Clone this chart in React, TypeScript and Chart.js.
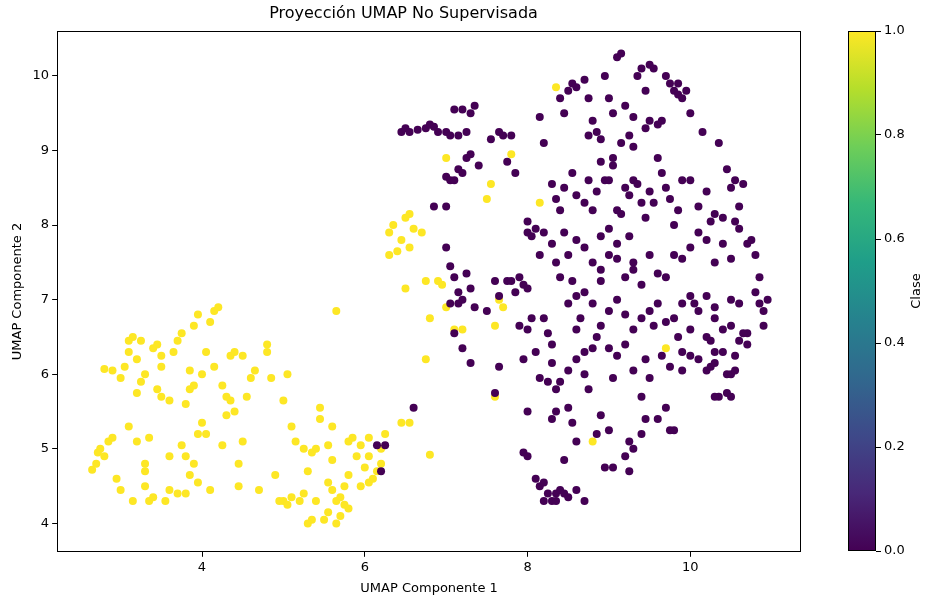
import React, { useEffect, useRef } from "react";
import { Chart, registerables } from "chart.js";
Chart.register(...registerables);

const titleText = "Proyección UMAP No Supervisada";
const xLabel = "UMAP Componente 1";
const yLabel = "UMAP Componente 2";
const cbLabel = "Clase";
const xTicks = [4, 6, 8, 10];
const yTicks = [4, 5, 6, 7, 8, 9, 10];
const cbTicks = [0, 0.2, 0.4, 0.6, 0.8, 1.0];

const class1Points: [number, number][] = [
  [2.65,4.72],[2.7,4.8],[2.72,4.95],[2.75,5.0],[2.8,4.9],[2.85,5.1],[2.8,6.07],[2.9,5.15],[2.95,4.6],[3.0,5.95],
  [3.05,6.1],[3.1,5.3],[3.1,6.3],[3.15,6.5],[3.2,6.2],[3.2,5.75],[3.25,6.45],[3.3,6.0],[3.25,5.9],[3.3,4.8],
  [3.3,4.5],[3.35,4.3],[3.3,4.7],[3.35,5.15],[3.4,4.35],[3.4,6.35],[3.45,6.4],[3.5,6.25],[3.5,6.1],[3.45,5.8],
  [3.55,4.3],[3.6,5.65],[3.65,6.3],[3.7,6.45],[3.6,4.45],[3.7,4.4],[3.75,5.05],[3.8,4.9],[3.8,5.6],[3.85,5.8],
  [3.9,5.85],[3.95,4.55],[3.9,4.8],[3.85,4.65],[3.95,5.2],[4.0,5.35],[4.05,5.2],[3.95,6.8],[3.9,6.65],[4.0,6.0],
  [4.05,6.3],[4.1,6.7],[4.15,6.85],[4.2,6.9],[4.15,6.1],[4.25,5.85],[4.3,5.7],[4.3,5.45],[4.35,5.65],[4.4,5.5],
  [4.45,4.5],[4.45,4.8],[4.5,5.1],[4.35,6.25],[4.4,6.3],[4.5,6.25],[4.6,5.95],[4.65,6.05],[4.1,4.45],[3.5,5.7],
  [3.85,6.05],[3.2,5.1],[2.9,6.05],[3.1,6.45],[3.8,4.4],[3.0,4.45],[3.15,4.3],[3.6,4.9],[4.25,5.05],[3.75,6.55],
  [4.85,5.95],[4.9,4.65],[5.0,4.3],[5.05,4.25],[5.1,4.35],[5.0,5.65],[5.05,6.0],[5.1,5.3],[5.15,5.1],[5.2,4.3],
  [5.25,4.4],[5.3,4.0],[5.3,4.7],[5.35,4.95],[5.4,5.0],[5.4,4.3],[5.45,5.55],[5.45,5.4],[5.5,4.05],[5.55,4.15],
  [5.55,4.55],[5.6,4.45],[5.6,4.85],[5.55,5.05],[5.6,5.3],[5.65,4.3],[5.7,4.35],[5.75,4.25],[5.8,4.2],[5.75,4.5],
  [5.8,4.65],[5.8,5.1],[5.85,5.15],[5.9,4.9],[5.95,4.5],[6.0,4.75],[6.05,4.55],[6.05,4.9],[6.1,4.6],[6.15,4.7],
  [6.2,5.0],[6.2,4.8],[6.25,5.2],[6.05,5.15],[5.95,5.05],[5.65,6.85],[5.35,4.05],[5.65,4.0],[4.95,4.3],[4.7,4.45],
  [5.25,5.0],[5.7,4.1],[4.8,6.4],[4.8,6.3],[4.55,5.7],
  [6.3,7.6],[6.4,7.65],[6.3,7.9],[6.35,8.0],[6.45,7.8],[6.5,8.1],[6.55,8.15],[6.6,7.95],[6.55,7.7],[6.7,7.9],
  [6.5,7.15],[6.75,7.25],[6.8,6.75],[6.9,7.25],[6.95,7.2],[7.0,6.9],[7.1,6.6],[7.2,6.6],[7.0,8.9],[6.75,6.2],
  [6.8,4.92],[6.55,5.35],[6.45,5.35],[7.5,8.35],[7.55,8.55],[7.6,6.65],[7.65,7.0],[7.7,6.9],[7.6,5.7],[7.8,8.95],
  [8.15,8.3],[8.35,9.85],[8.8,5.1],[9.7,6.35]
];

const class0Points: [number, number][] = [
  [6.45,9.25],[6.5,9.3],[6.55,9.25],[6.65,9.28],[6.75,9.3],[6.8,9.35],[6.85,9.32],[6.9,9.25],[7.0,9.25],[7.05,9.2],
  [7.1,9.55],[7.15,9.2],[7.2,9.55],[7.25,9.25],[7.3,9.5],[7.35,9.6],[7.0,8.65],[7.05,8.6],[7.1,8.6],[7.15,8.75],
  [7.2,8.7],[7.25,8.9],[7.3,8.95],[7.4,8.8],[7.55,9.15],[7.65,9.25],[7.7,9.2],[7.8,9.2],[7.75,8.85],[7.85,8.7],
  [6.85,8.25],[7.0,8.25],[7.0,7.7],[7.05,7.45],[7.1,7.3],[7.15,7.1],[7.05,6.95],[7.15,6.95],[7.2,7.0],[7.3,7.15],
  [7.25,7.35],[7.35,6.9],[7.1,6.55],[7.2,6.35],[7.3,6.15],[7.5,6.85],[7.6,7.25],[7.65,7.05],[7.75,7.25],[7.8,7.25],
  [7.85,7.1],[7.9,7.3],[7.95,7.2],[8.0,7.15],[7.9,6.65],[8.0,6.6],[8.05,6.75],[8.2,6.75],[8.25,6.55],[8.3,6.4],
  [7.65,6.1],[7.6,5.75],[8.0,5.5],[7.95,4.95],[8.0,4.9],[8.1,4.6],[8.15,4.5],[8.2,4.3],[8.25,4.4],[8.3,4.3],
  [8.35,4.4],[8.4,4.45],[8.45,4.4],[8.6,4.45],[8.7,4.3],[8.45,4.85],[8.3,5.4],[8.35,5.5],[8.35,5.8],[8.4,5.9],
  [8.5,5.55],[8.55,5.35],[8.5,6.05],[8.6,6.2],[8.7,6.0],[8.8,6.35],[8.75,5.8],[8.9,5.45],[8.85,5.2],[9.0,5.25],
  [9.05,5.95],[9.1,6.25],[8.95,4.75],[9.2,4.9],[9.25,5.1],[9.3,5.0],[9.25,4.7],[9.45,5.4],[9.4,5.7],[9.5,5.95],
  [9.6,5.4],[9.7,5.55],[9.8,5.25],[9.9,6.05],[9.85,6.5],[10.0,6.25],[10.1,6.2],[10.2,6.05],[10.25,6.1],[10.3,6.15],
  [10.3,6.3],[10.4,6.3],[10.45,6.0],[10.5,6.0],[10.55,6.05],[10.45,5.75],[10.35,5.7],[10.5,5.7],[10.55,6.25],[10.6,6.45],
  [8.0,7.9],[8.05,7.85],[8.1,7.95],[8.15,7.6],[8.2,7.9],[8.0,8.05],[8.3,8.55],[8.35,8.35],[8.4,8.2],[8.45,8.5],
  [8.55,8.7],[8.6,8.4],[8.7,8.3],[8.75,8.6],[8.8,8.2],[8.85,8.45],[8.9,8.85],[8.95,8.6],[9.0,8.6],[9.05,8.8],
  [9.1,8.2],[9.15,8.15],[9.2,8.5],[9.25,8.4],[9.3,8.6],[9.35,8.55],[9.4,8.3],[9.45,8.1],[9.5,8.45],[9.55,8.3],
  [9.6,8.9],[9.65,8.7],[9.7,8.5],[9.75,8.35],[9.8,8.0],[9.85,8.2],[9.9,8.6],[10.0,8.6],[10.1,8.25],[10.2,8.45],
  [10.25,8.05],[10.3,8.15],[10.4,8.1],[10.45,8.75],[10.5,8.5],[10.55,8.6],[10.65,8.55],[10.55,8.05],[10.6,7.95],[10.7,7.75],
  [10.75,7.8],[10.8,7.6],[10.5,7.55],[10.4,7.75],[10.3,7.5],[10.2,7.8],[10.1,7.9],[10.0,7.7],[9.9,7.55],[9.8,7.6],
  [9.7,7.3],[9.6,7.35],[9.5,7.6],[9.4,7.2],[9.3,7.5],[9.25,7.85],[9.2,7.3],[9.1,7.55],[9.0,7.6],[8.9,7.25],
  [8.8,7.5],[8.7,7.1],[8.6,7.05],[8.55,7.25],[8.5,7.6],[8.45,7.9],[8.9,7.85],[9.0,7.95],[9.1,7.75],[9.3,7.4],
  [8.7,7.7],[8.6,7.8],[8.3,7.75],[8.35,7.5],[8.4,7.3],[8.5,6.95],[8.65,6.75],[8.8,6.95],[8.9,6.65],[9.0,6.85],
  [9.1,7.0],[9.2,6.8],[9.3,6.6],[9.4,6.75],[9.5,6.85],[9.55,6.65],[9.6,6.95],[9.7,6.7],[9.8,6.75],[9.9,6.95],
  [10.0,7.05],[10.05,6.95],[10.1,6.85],[10.2,7.05],[10.3,6.9],[10.4,6.6],[10.5,7.0],[10.6,6.95],[10.7,6.55],[10.8,7.1],
  [10.85,6.95],[10.9,6.85],[10.95,7.0],[10.9,6.65],[10.85,7.3],[10.2,6.5],[10.0,6.6],[9.9,6.3],[9.75,6.1],[9.65,6.25],
  [9.45,6.2],[9.3,6.05],[9.2,6.4],[9.0,6.35],[8.85,6.5],[8.7,6.3],[8.6,6.6],[8.25,5.9],[8.3,6.15],[8.15,5.95],
  [8.1,6.3],[8.9,7.4],[8.15,9.45],[8.2,9.1],[8.4,9.7],[8.45,9.5],[8.5,9.8],[8.55,9.9],[8.6,9.85],[8.7,9.95],
  [8.75,9.7],[8.8,9.4],[8.85,9.25],[8.9,9.15],[8.95,10.0],[9.0,9.7],[9.05,9.5],[9.1,10.25],[9.15,10.3],[9.2,9.6],
  [9.25,9.2],[9.3,9.05],[9.35,10.0],[9.4,10.1],[9.45,9.8],[9.5,10.15],[9.55,10.1],[9.6,9.35],[9.65,9.4],[9.7,10.0],
  [9.75,9.9],[9.8,9.8],[9.85,9.75],[9.9,9.7],[9.95,9.8],[10.0,9.5],[9.5,9.4],[9.45,9.3],[9.3,9.45],[9.15,9.1],
  [8.75,9.2],[9.85,9.9],[10.15,9.25],[10.35,9.1],[9.05,8.9],[6.15,5.05],[6.25,5.05],[6.2,4.7],[6.6,5.55],[8.2,4.55],
  [8.35,4.3],[8.5,4.35],[9.05,4.75],[9.75,5.25],[10.3,5.7],[10.7,6.4],[10.65,6.55],[10.5,6.65],[10.3,6.75],[10.25,6.45],
  [10.6,8.25],[9.4,5.2],[8.6,5.1],[7.95,6.2]
];

const viridis = ["#440154","#482878","#3e4989","#31688e","#26828e","#1f9e89","#35b779","#6ece58","#b5de2b","#fde725"];
const FONT = "'DejaVu Sans', sans-serif";

const frame = {
  id: "frame",
  afterDraw(c: any) {
    const a = c.chartArea, ctx = c.ctx;
    ctx.save(); ctx.strokeStyle = "#000"; ctx.lineWidth = 1;
    ctx.strokeRect(Math.round(a.left) + 0.5, Math.round(a.top) + 0.5, Math.round(a.right - a.left) - 1, Math.round(a.bottom - a.top) - 1);
    ctx.restore();
  },
};

const cbTitle = {
  id: "cbTitle",
  afterDraw(c: any) {
    const a = c.chartArea, ctx = c.ctx;
    ctx.save();
    ctx.translate(69, (a.top + a.bottom) / 2);
    ctx.rotate(-Math.PI / 2);
    ctx.font = "13px " + FONT;
    ctx.fillStyle = "#000";
    ctx.textAlign = "center";
    ctx.textBaseline = "middle";
    ctx.fillText(cbLabel, 0, 0);
    ctx.restore();
  },
};

export default function App() {
  const mainRef = useRef<HTMLCanvasElement>(null);
  const cbRef = useRef<HTMLCanvasElement>(null);
  useEffect(() => {
    const tickFont = { family: FONT, size: 13 };
    const grid = { display: true, drawOnChartArea: false, drawTicks: true, tickLength: 5, color: "#000" };
    const main = new Chart(mainRef.current!, {
      type: "scatter",
      data: {
        datasets: [
          { data: class0Points.map(([x, y]) => ({ x, y })), backgroundColor: "#440154", borderWidth: 0, pointRadius: 4 },
          { data: class1Points.map(([x, y]) => ({ x, y })), backgroundColor: "#fde725", borderWidth: 0, pointRadius: 4 },
        ],
      },
      options: {
        animation: false, responsive: false,
        layout: { padding: { right: 133, top: 2, left: 6, bottom: 4 } },
        plugins: {
          legend: { display: false }, tooltip: { enabled: false },
          title: { display: true, text: titleText, color: "#000", font: { family: FONT, size: 16, weight: "normal" }, padding: { top: 2, bottom: 8 } },
        },
        scales: {
          x: {
            min: 2.22, max: 11.36,
            afterBuildTicks: (s: any) => { s.ticks = xTicks.map((v) => ({ value: v })); },
            ticks: { color: "#000", font: tickFont, padding: 3, callback: (v: any) => String(v) },
            grid, border: { display: false },
            title: { display: true, text: xLabel, color: "#000", font: tickFont, padding: { top: 2 } },
          },
          y: {
            min: 3.62, max: 10.6,
            afterBuildTicks: (s: any) => { s.ticks = yTicks.map((v) => ({ value: v })); },
            ticks: { color: "#000", font: tickFont, padding: 3, callback: (v: any) => String(v) },
            grid, border: { display: false },
            title: { display: true, text: yLabel, color: "#000", font: tickFont, padding: { bottom: 4 } },
          },
        },
      },
      plugins: [frame],
    } as any);

    const cb = new Chart(cbRef.current!, {
      type: "bar",
      data: {
        labels: [""],
        datasets: [{
          data: [[0, 1]] as any,
          barPercentage: 1, categoryPercentage: 1, borderWidth: 0,
          backgroundColor: (ctx: any) => {
            const a = ctx.chart.chartArea;
            if (!a) return viridis[0];
            const g = ctx.chart.ctx.createLinearGradient(0, a.bottom, 0, a.top);
            viridis.forEach((c, i) => g.addColorStop(i / (viridis.length - 1), c));
            return g;
          },
        }],
      },
      options: {
        animation: false, responsive: false,
        layout: { padding: { top: 31, bottom: 53, left: 0, right: 0 } },
        plugins: { legend: { display: false }, tooltip: { enabled: false } },
        scales: {
          x: { display: false },
          y: {
            position: "right", min: 0, max: 1,
            afterBuildTicks: (s: any) => { s.ticks = cbTicks.map((v) => ({ value: v })); },
            afterFit: (s: any) => { s.width = 58; },
            ticks: { color: "#000", font: tickFont, padding: 3, callback: (v: any) => Number(v).toFixed(1) },
            grid, border: { display: false },
          },
        },
      },
      plugins: [frame, cbTitle],
    } as any);
    return () => { main.destroy(); cb.destroy(); };
  }, []);
  return (
    <div style={{ position: "fixed", left: 0, top: 0, width: 934, height: 604, background: "#fff" }}>
      <canvas ref={mainRef} width={934} height={604} style={{ position: "absolute", left: 0, top: 0 }} />
      <canvas ref={cbRef} width={86} height={604} style={{ position: "absolute", left: 848, top: 0 }} />
    </div>
  );
}
